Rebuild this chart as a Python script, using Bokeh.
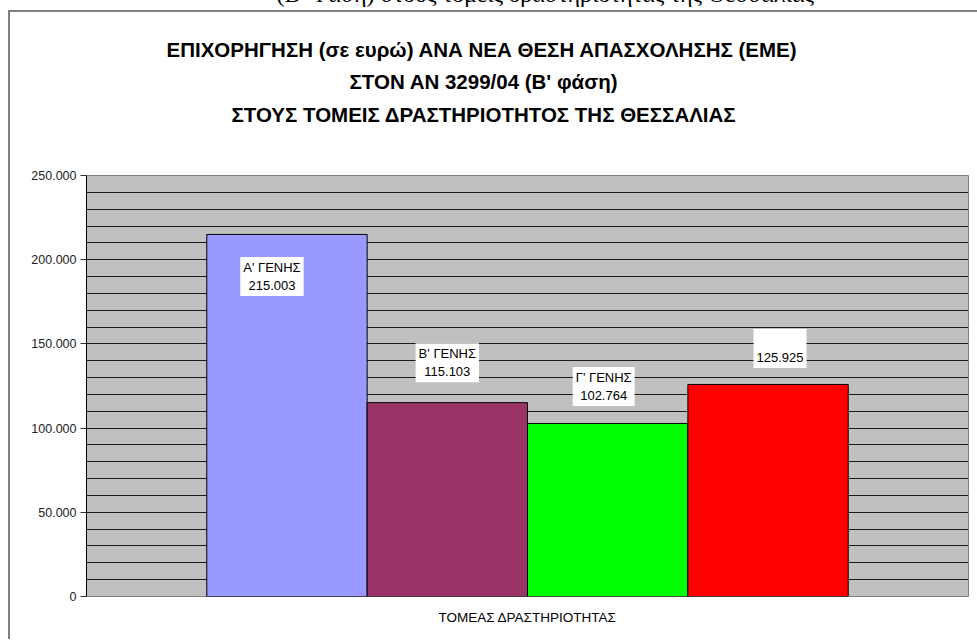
from bokeh.plotting import figure
from bokeh.models import Range1d, FixedTicker, Label, Title, ColumnDataSource
from bokeh.embed import file_html
from bokeh.resources import INLINE

# ---- data ----
series_names = ["Α' ΓΕΝΗΣ", "Β' ΓΕΝΗΣ", "Γ' ΓΕΝΗΣ", "\u00a0"]
values = [215003, 115103, 102764, 125925]
colors = ["#9999FF", "#993366", "#00FF00", "#FF0000"]
y_ticks = [0, 50000, 100000, 150000, 200000, 250000]
y_tick_labels = ["0", "50.000", "100.000", "150.000", "200.000", "250.000"]
title_lines = [
    "ΕΠΙΧΟΡΗΓΗΣΗ (σε ευρώ)  ΑΝΑ ΝΕΑ ΘΕΣΗ ΑΠΑΣΧΟΛΗΣΗΣ (ΕΜΕ)",
    "ΣΤΟΝ ΑΝ 3299/04 (Β' φάση)",
    "ΣΤΟΥΣ ΤΟΜΕΙΣ ΔΡΑΣΤΗΡΙΟΤΗΤΟΣ ΤΗΣ ΘΕΣΣΑΛΙΑΣ",
]
x_axis_title = "ΤΟΜΕΑΣ ΔΡΑΣΤΗΡΙΟΤΗΤΑΣ"
header_text = "(Β' Φάση) στους τομείς δραστηριότητας της Θεσσαλίας"

# ---- layout ----
MT = 50                     # canvas starts MT px above the page top
W, H = 977, 641 + MT - 2
FL, FR = 86, 968
FT, FB = 175 + MT, 596 + MT
XMAX, YMAX = 5.5, 250000

p = figure(width=W, height=H, output_backend="svg", toolbar_location=None,
           x_range=Range1d(0, XMAX), y_range=Range1d(0, YMAX),
           x_axis_type=None,
           min_border_left=FL, min_border_right=W - FR,
           min_border_top=FT, min_border_bottom=H - FB)
p.styles = {
    "margin-top": f"-{MT}px",
    "background": (f"linear-gradient(#808080,#808080) 8px {10 + MT}px / 2px 100% no-repeat, "
                   f"linear-gradient(#808080,#808080) 8px {10 + MT}px / 100% 2px no-repeat, "
                   "#ffffff"),
}
p.background_fill_color = "#C0C0C0"
p.border_fill_color = None
p.outline_line_color = "#808080"
p.outline_line_width = 1

p.ygrid.ticker = FixedTicker(ticks=list(range(0, 250001, 10000)))
p.ygrid.grid_line_color = "#1a1a1a"
p.ygrid.grid_line_width = 1

ax = p.yaxis[0]
ax.ticker = FixedTicker(ticks=y_ticks)
ax.major_label_overrides = {t: s for t, s in zip(y_ticks, y_tick_labels)}
ax.major_label_text_font = "Liberation Sans"
ax.major_label_text_font_size = "12.5px"
ax.major_label_text_color = "#222222"
ax.major_tick_out = 6
ax.major_tick_in = 0
ax.minor_tick_out = 0
ax.minor_tick_in = 0
ax.major_label_standoff = 4
ax.axis_line_color = "black"
ax.major_tick_line_color = "#333333"

centers = [1.25 + i for i in range(len(values))]
src = ColumnDataSource(dict(x=centers, top=values, color=colors))
p.vbar(x="x", top="top", bottom=0, width=1.0, fill_color="color",
       line_color="black", line_width=1, source=src)

label_offsets = [(-15, -42), (0, 40), (-4, 37), (12, 36)]
for name, v, c, (ox, oy) in zip(series_names, values, centers, label_offsets):
    txt = name + "\n" + f"{v:,}".replace(",", ".")
    p.add_layout(Label(x=c, y=v, x_offset=ox, y_offset=oy, text=txt,
                       text_align="center", text_baseline="middle",
                       text_font="Liberation Sans", text_font_size="13px",
                       text_color="black", background_fill_color="white",
                       padding=3))

# panels above the frame: first added is nearest the frame
p.add_layout(Title(text="\u00a0", text_font_size="2px", standoff=42), "above")
title_standoffs = [6, 8, 8]
title_offsets = [80, 263, 145]
for t, s, o in reversed(list(zip(title_lines, title_standoffs, title_offsets))):
    p.add_layout(Title(text=t, align="left", offset=o, standoff=s,
                       text_font="Liberation Sans", text_font_style="bold",
                       text_font_size="20.5px", text_color="black"), "above")
p.add_layout(Title(text=header_text, align="left", offset=190, standoff=52,
                   text_font="Liberation Serif", text_font_style="normal",
                   text_font_size="24px", text_color="black"), "above")

p.add_layout(Title(text=x_axis_title, align="center", standoff=22,
                   text_font="Liberation Sans", text_font_style="normal",
                   text_font_size="13.5px", text_color="black"), "below")

open("out.html", "w").write(file_html(p, INLINE))
